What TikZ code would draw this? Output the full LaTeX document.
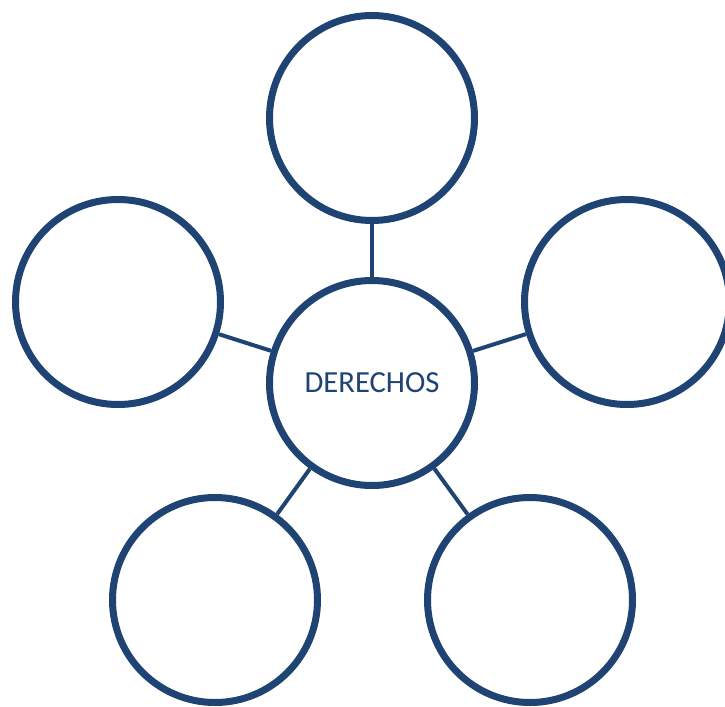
\documentclass[tikz,border=0pt]{standalone}
\usepackage{fontspec}
\setmainfont{Carlito}
\usepackage{xcolor}
\usepackage{tikz}
\usetikzlibrary{shadows}
\definecolor{dkblue}{HTML}{1F4373}

\begin{document}
\begin{tikzpicture}[
  x=0.75pt, y=-0.75pt,
  font=\fontsize{23}{25}\selectfont,
  bubble/.style={draw=dkblue, line width=5.25pt, circle, fill=white,
                 minimum size=153.75pt, inner sep=0pt, text=dkblue,
                 drop shadow={opacity=0.25, shadow xshift=1.2pt,
                              shadow yshift=-1.5pt}},
  link/.style={dkblue, line width=3pt}]
\useasboundingbox (0,0) rectangle (725,707);

% ---------------- central topic ----------------
\node[bubble] (core) at (372,383) {DERECHOS};

% ---------------- empty bubbles round it ----------------
\node[bubble] (top)   at (372,118) {};
\node[bubble] (left)  at (118,302) {};
\node[bubble] (right) at (627,302) {};
\node[bubble] (bl)    at (215,600) {};
\node[bubble] (br)    at (530,600) {};

\foreach \b in {top,left,right,bl,br}{
  \draw[link] (core) -- (\b);}
\end{tikzpicture}
\end{document}
